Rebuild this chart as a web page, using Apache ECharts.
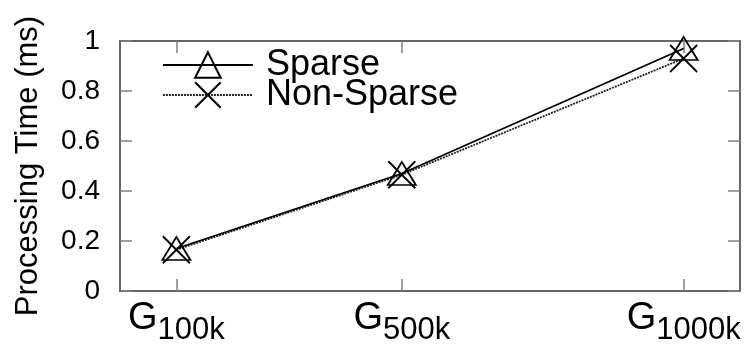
<!DOCTYPE html>
<html>
<head>
<meta charset="utf-8">
<script src="https://cdn.jsdelivr.net/npm/echarts@6/dist/echarts.min.js"></script>
<style>
  html, body { margin: 0; padding: 0; background: #fff; }
  #chart { width: 749px; height: 347px; }
</style>
</head>
<body>
<div id="chart"></div>
<script>
// Graph sizes (thousands of nodes) and their axis labels
const graphSizes = [100, 500, 1000];
const sizeLabels = ['100k', '500k', '1000k'];
// Processing time in ms for each graph size
const sparseTimes = [0.17, 0.47, 0.97];
const nonSparseTimes = [0.165, 0.465, 0.93];
const yTicks = [0, 0.2, 0.4, 0.6, 0.8, 1];

const FONT = '"Liberation Sans", Arial, Helvetica, sans-serif';
const crossPath = 'path://M0,0L10,10M10,0L0,10';

const toPairs = (vals) => graphSizes.map((x, i) => [x, vals[i]]);
const labelFor = {};
graphSizes.forEach((x, i) => { labelFor[x] = sizeLabels[i]; });

const chart = echarts.init(document.getElementById('chart'), null, { renderer: 'canvas' });

const tickStyle = { color: '#808080', width: 1.5 };
const borderStyle = { color: '#333', width: 1.5 };
// negative length turns the ticks into the plot area on every side
const tick = (extra) => Object.assign({ show: true, inside: false, length: -12, lineStyle: tickStyle }, extra || {});

chart.setOption({
  animation: false,
  backgroundColor: '#fff',
  grid: { left: 120, top: 41, right: 9, bottom: 56, containLabel: false, outerBoundsMode: 'none' },
  legend: {
    orient: 'vertical',
    left: 157,
    top: 42,
    itemWidth: 90,
    itemHeight: 32,
    itemGap: -6,
    lineStyle: { width: 1.8 },
    textStyle: {
      fontFamily: FONT, fontSize: 36, color: '#000',
      padding: [0, 0, 0, 8]
    },
    data: ['Sparse', 'Non-Sparse']
  },
  xAxis: [{
    type: 'value', min: 0, max: 1100, position: 'bottom',
    splitLine: { show: false },
    axisLine: { show: true, onZero: false, lineStyle: borderStyle },
    axisTick: tick({ customValues: graphSizes }),
    axisLabel: {
      customValues: graphSizes,
      margin: 0,
      formatter: (v) => '{g|G}{s|' + labelFor[v] + '}',
      rich: {
        g: { fontFamily: FONT, fontSize: 38, color: '#000' },
        s: { fontFamily: FONT, fontSize: 31, color: '#000', padding: [24, 0, 0, 0] }
      }
    }
  }, {
    type: 'value', min: 0, max: 1100, position: 'top',
    splitLine: { show: false },
    axisLine: { show: true, onZero: false, lineStyle: borderStyle },
    axisTick: tick({ customValues: graphSizes }),
    axisLabel: { show: false }
  }],
  yAxis: [{
    type: 'value', min: 0, max: 1, interval: 0.2, position: 'left',
    name: 'Processing Time (ms)',
    nameLocation: 'middle',
    nameGap: 76,
    nameTextStyle: { fontFamily: FONT, fontSize: 31, color: '#000' },
    splitLine: { show: false },
    axisLine: { show: true, onZero: false, lineStyle: borderStyle },
    axisTick: tick(),
    axisLabel: {
      margin: 20,
      fontFamily: FONT, fontSize: 28, color: '#000',
      customValues: yTicks,
      formatter: (v) => String(+v.toFixed(1))
    }
  }, {
    type: 'value', min: 0, max: 1, interval: 0.2, position: 'right',
    splitLine: { show: false },
    axisLine: { show: true, onZero: false, lineStyle: borderStyle },
    axisTick: tick(),
    axisLabel: { show: false }
  }],
  series: [{
    name: 'Sparse',
    type: 'line',
    xAxisIndex: 0, yAxisIndex: 0,
    data: toPairs(sparseTimes),
    symbol: 'triangle',
    symbolSize: [28, 23],
    showAllSymbol: true,
    lineStyle: { color: '#000', width: 1.8, type: 'solid' },
    itemStyle: { color: 'none', borderColor: '#000', borderWidth: 1.8 },
    emphasis: { disabled: true },
    z: 3
  }, {
    name: 'Non-Sparse',
    type: 'line',
    xAxisIndex: 0, yAxisIndex: 0,
    data: toPairs(nonSparseTimes),
    symbol: crossPath,
    symbolSize: [27, 27],
    showAllSymbol: true,
    lineStyle: { color: '#222', width: 1.8, type: [2, 1] },
    itemStyle: { color: 'none', borderColor: '#000', borderWidth: 1.8 },
    emphasis: { disabled: true },
    z: 2
  }]
});
</script>
</body>
</html>
